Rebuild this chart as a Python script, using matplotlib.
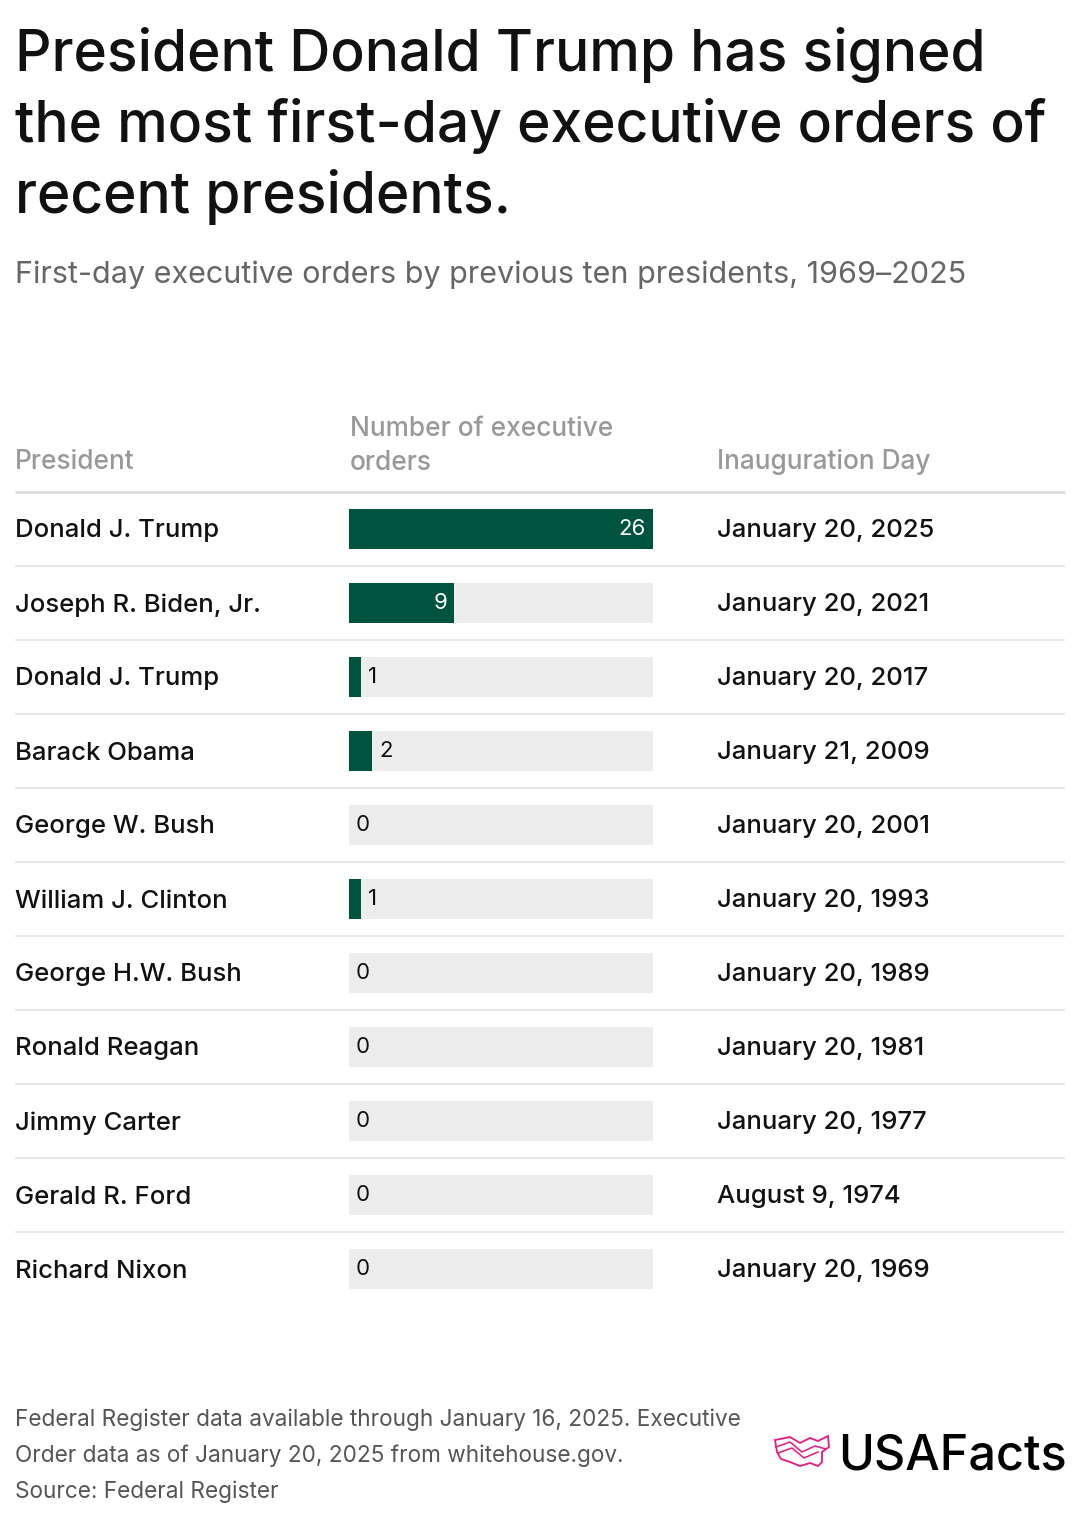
import matplotlib.pyplot as plt
from matplotlib.patches import Polygon

plt.rcParams['font.family'] = ['Inter', 'DejaVu Sans']

presidents = ["Donald J. Trump", "Joseph R. Biden, Jr.", "Donald J. Trump", "Barack Obama",
              "George W. Bush", "William J. Clinton", "George H.W. Bush", "Ronald Reagan",
              "Jimmy Carter", "Gerald R. Ford", "Richard Nixon"]
orders = [26, 9, 1, 2, 0, 1, 0, 0, 0, 0, 0]
inauguration = ["January 20, 2025", "January 20, 2021", "January 20, 2017", "January 21, 2009",
                "January 20, 2001", "January 20, 1993", "January 20, 1989", "January 20, 1981",
                "January 20, 1977", "August 9, 1974", "January 20, 1969"]

W, H = 1080, 1524
GREEN = "#00533f"
TRACK = "#ededed"

fig = plt.figure(figsize=(W / 100, H / 100), dpi=100)
bg = fig.add_axes([0, 0, 1, 1])
bg.set_xlim(0, W)
bg.set_ylim(H, 0)
bg.axis("off")

# title + subtitle
title = "President Donald Trump has signed\nthe most first-day executive orders of\nrecent presidents."
bg.text(15, 27, title, fontsize=41, fontweight="medium", color="#111111",
        va="top", ha="left", linespacing=1.34)
bg.text(15, 275, "First-day executive orders by previous ten presidents, 1969\u20132025",
        fontsize=22, color="#666666", va="center", ha="left")

# column headers
hdr = dict(fontsize=18.9, color="#999999", va="center", ha="left", fontweight="medium")
bg.text(15, 462, "President", **hdr)
bg.text(350, 446, "Number of executive\norders", linespacing=1.4, **hdr)
bg.text(717, 462, "Inauguration Day", **hdr)
bg.plot([15, 1065], [492, 492], color="#dddddd", lw=2, solid_capstyle="butt")

row_top, row_h = 492, 74
n = len(presidents)
for i in range(n):
    yc = row_top + row_h * (i + 0.5) + 2
    bg.text(15, yc, presidents[i], fontsize=18.5, fontweight="medium", color="#111111",
            va="center", ha="left")
    bg.text(717, yc, inauguration[i], fontsize=18.5, fontweight="medium", color="#111111",
            va="center", ha="left")
    if i < n - 1:
        yl = row_top + row_h * (i + 1)
        bg.plot([15, 1065], [yl, yl], color="#e8e8e8", lw=1.5, solid_capstyle="butt")

# bars
vmax = 26
ax = fig.add_axes([349 / W, 1 - (row_top + row_h * n) / H, (653 - 349) / W, row_h * n / H])
ax.set_xlim(0, vmax)
ax.set_ylim(n, 0)
ax.axis("off")
ys = [i + 0.5 for i in range(n)]
bh = 40 / row_h
ax.barh(ys, [vmax] * n, height=bh, color=TRACK, left=0)
ax.barh(ys, orders, height=bh, color=GREEN, left=0)
px = vmax / (653 - 349)
for y, v in zip(ys, orders):
    if v >= 5:
        ax.text(v - 7 * px, y, str(v), color="white", fontsize=16, ha="right", va="center")
    else:
        ax.text(v + 7 * px, y, str(v), color="#111111", fontsize=16, ha="left", va="center")

# footer
foot = dict(fontsize=16.25, color="#555555", va="center", ha="left")
bg.text(15, 1420, "Federal Register data available through January 16, 2025. Executive", **foot)
bg.text(15, 1456, "Order data as of January 20, 2025 from whitehouse.gov.", **foot)
bg.text(15, 1492, "Source: Federal Register", **foot)

# logo
bg.text(838, 1456, "USAFacts", fontsize=35, fontweight="medium", color="#000000",
        va="center", ha="left")
pink = "#e8197c"
outline = [(775, 1440), (790, 1437), (800, 1443), (810, 1438), (818, 1441), (828, 1436),
           (829, 1447), (822, 1452), (822, 1462), (818, 1466), (810, 1463), (800, 1466),
           (790, 1462), (781, 1459), (777, 1452)]
bg.add_patch(Polygon(outline, closed=True, fill=False, edgecolor=pink, lw=1.3))
bg.plot([776, 790, 802, 815, 826], [1447, 1442, 1452, 1446, 1449], color=pink, lw=1.1)
bg.plot([778, 792, 804, 818], [1453, 1448, 1458, 1452], color=pink, lw=1.1)

fig.savefig("out.png", dpi=100)
